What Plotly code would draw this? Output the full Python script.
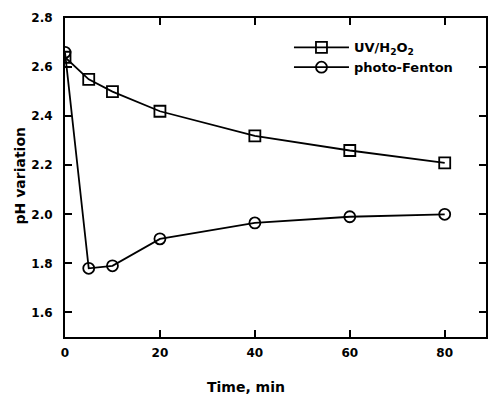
import plotly.graph_objects as go

time_min = [0, 5, 10, 20, 40, 60, 80]
uv_h2o2 = [2.64, 2.55, 2.50, 2.42, 2.32, 2.26, 2.21]
photo_fenton = [2.66, 1.78, 1.79, 1.90, 1.965, 1.99, 2.00]
x_ticks = [0, 20, 40, 60, 80]
y_ticks = [1.6, 1.8, 2.0, 2.2, 2.4, 2.6, 2.8]
y_tick_text = ["1.6", "1.8", "2.0", "2.2", "2.4", "2.6", "2.8"]

FONT = "DejaVu Sans"
fig = go.Figure()
fig.add_trace(go.Scatter(
    x=time_min, y=uv_h2o2, mode="lines+markers", name="UV/H<sub>2</sub>O<sub>2</sub>",
    line=dict(color="black", width=1.8),
    marker=dict(symbol="square-open", size=11, color="black", line=dict(width=1.8)),
))
fig.add_trace(go.Scatter(
    x=time_min, y=photo_fenton, mode="lines+markers", name="photo-Fenton",
    line=dict(color="black", width=1.8),
    marker=dict(symbol="circle-open", size=11, color="black", line=dict(width=1.8)),
))

axis_common = dict(
    showline=True, linecolor="black", linewidth=2, mirror="ticks",
    ticks="inside", ticklen=7, tickwidth=1.5, tickcolor="black",
    showgrid=False, zeroline=False,
    tickfont=dict(family=FONT, size=12, color="black", weight="bold"),
)
fig.update_xaxes(range=[0, 88.7], tickvals=x_ticks, ticklabelstandoff=4, **axis_common)
fig.update_yaxes(range=[1.5, 2.8], tickvals=y_ticks, ticktext=y_tick_text, ticklabelstandoff=8, **axis_common)

fig.add_annotation(text="Time, min", xref="paper", yref="paper", x=0.43, y=-0.157,
                   xanchor="center", yanchor="middle", showarrow=False,
                   font=dict(family=FONT, size=14, color="black", weight="bold"))
fig.add_annotation(text="pH variation", xref="paper", yref="paper", x=-0.108, y=0.505,
                   xanchor="center", yanchor="middle", textangle=-90, showarrow=False,
                   font=dict(family=FONT, size=14, color="black", weight="bold"))

fig.update_layout(
    width=489, height=395,
    margin=dict(l=65, r=1, t=18, b=58),
    plot_bgcolor="white", paper_bgcolor="white",
    showlegend=True,
    legend=dict(x=0.532, y=0.955, xanchor="left", yanchor="top",
                bgcolor="rgba(0,0,0,0)", itemwidth=55, tracegroupgap=0,
                font=dict(family=FONT, size=13, color="black", weight="bold")),
)
fig.write_html("out.html")
